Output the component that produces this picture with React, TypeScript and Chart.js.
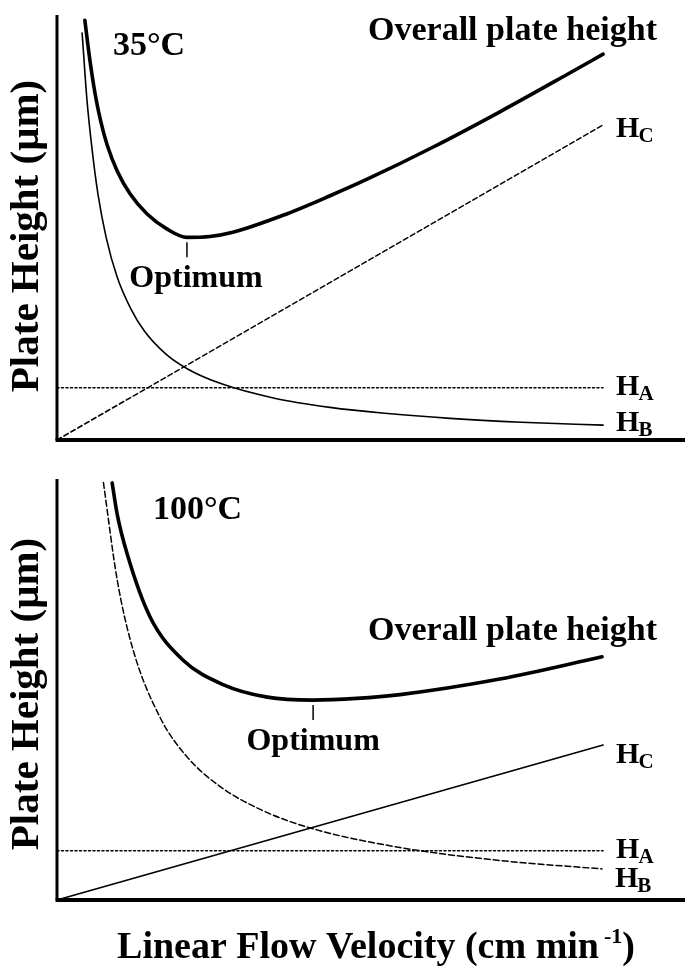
import React, { useEffect, useRef } from "react";
import { Chart, registerables } from "chart.js";

Chart.register(...registerables);

// Axis extents (arbitrary units: velocity along x, plate height along y)
const X_MAX = 11.5;
const Y_MAX = 10;

// ---- 35 °C ----
const v35Overall = [0.51, 0.6, 0.7, 0.8, 0.92, 1.1, 1.34, 1.65, 2.01, 2.38, 2.8, 3.22, 4.14, 5.0, 5.68, 6.89, 8.11, 9.34, 10.0];
const h35Overall = [9.9, 8.98, 8.15, 7.52, 6.95, 6.35, 5.8, 5.33, 4.98, 4.78, 4.8, 4.9, 5.3, 5.76, 6.15, 6.91, 7.74, 8.62, 9.1];
const v35B = [0.46, 0.55, 0.65, 0.75, 0.9, 1.1, 1.35, 1.6, 2.0, 2.4, 3.0, 4.0, 5.0, 6.0, 7.2, 8.5, 10.0];
const h35B = [9.6, 8.0, 6.77, 5.8, 4.78, 3.85, 3.1, 2.57, 2.02, 1.67, 1.33, 0.98, 0.77, 0.63, 0.51, 0.42, 0.35];
const v35A = [0, 10];
const h35A = [1.23, 1.23];
const v35C = [0, 10];
const h35C = [0, 7.43];
const opt35 = { v: 2.38, h: 4.78 };

// ---- 100 °C ----
const v100Overall = [1.01, 1.1, 1.28, 1.7, 2.31, 3.04, 3.85, 4.69, 5.49, 6.28, 8.11, 9.98];
const h100Overall = [9.93, 9.2, 8.26, 6.75, 5.71, 5.13, 4.83, 4.76, 4.8, 4.89, 5.26, 5.79];
const v100B = [0.85, 1.1, 1.39, 1.89, 2.38, 3.0, 3.8, 4.73, 6.28, 8.11, 9.98];
const h100B = [9.94, 7.64, 5.97, 4.34, 3.41, 2.69, 2.11, 1.68, 1.25, 0.94, 0.74];
const v100A = [0, 10];
const h100A = [1.17, 1.17];
const v100C = [0, 10];
const h100C = [0, 3.69];
const opt100 = { v: 4.69, h: 4.76 };

// Text
const Y_TITLE = "Plate Height (\u03bcm)";
const X_TITLE_MAIN = "Linear Flow Velocity (cm min";
const X_TITLE_SUP = "-1";
const X_TITLE_END = ")";
const OVERALL_LABEL = "Overall plate height";
const OPTIMUM_LABEL = "Optimum";

const SERIF = "'Liberation Serif', 'Times New Roman', serif";

type Line = {
  xs: number[];
  ys: number[];
  width: number;
  dash: number[];
  smooth: boolean;
  tag?: { main: string; sub: string; dy: number };
};

type PanelSpec = {
  height: number;
  pad: { top: number; bottom: number };
  lines: Line[];
  temp: { text: string; x: number; y: number };
  overallLabel: { right: number; y: number };
  optimum: { v: number; h: number; dx: number };
  yTitleCenter: number;
  xTitle?: { cx: number; y: number };
};

function toPoints(xs: number[], ys: number[]) {
  return xs.map((x, i) => ({ x, y: ys[i] }));
}

function decor(spec: PanelSpec) {
  return {
    id: "panelDecor",
    afterDatasetsDraw(chart: any) {
      const { ctx, chartArea, scales } = chart;
      const sx = scales.x;
      const sy = scales.y;
      ctx.save();
      ctx.fillStyle = "#000";
      ctx.strokeStyle = "#000";
      ctx.setLineDash([]);

      // axes
      ctx.lineWidth = 3;
      ctx.beginPath();
      ctx.moveTo(chartArea.left, chartArea.top - 1);
      ctx.lineTo(chartArea.left, chartArea.bottom);
      ctx.stroke();
      ctx.lineWidth = 4;
      ctx.beginPath();
      ctx.moveTo(chartArea.left - 1.5, chartArea.bottom);
      ctx.lineTo(chart.width, chartArea.bottom);
      ctx.stroke();

      // series end labels (H with subscript)
      spec.lines.forEach((ln) => {
        if (!ln.tag) return;
        const n = ln.xs.length - 1;
        const px = sx.getPixelForValue(ln.xs[n]) + 13;
        const py = sy.getPixelForValue(ln.ys[n]) + ln.tag.dy;
        ctx.textAlign = "left";
        ctx.textBaseline = "alphabetic";
        ctx.font = `bold 30px ${SERIF}`;
        ctx.fillText(ln.tag.main, px, py);
        const w = ctx.measureText(ln.tag.main).width;
        ctx.font = `bold 21px ${SERIF}`;
        ctx.fillText(ln.tag.sub, px + w - 1, py + 5);
      });

      // temperature
      ctx.font = `bold 34px ${SERIF}`;
      ctx.textAlign = "left";
      ctx.fillText(spec.temp.text, spec.temp.x, spec.temp.y);

      // overall label
      ctx.textAlign = "right";
      ctx.font = `bold 34px ${SERIF}`;
      ctx.fillText(OVERALL_LABEL, spec.overallLabel.right, spec.overallLabel.y);

      // optimum marker
      const ox = sx.getPixelForValue(spec.optimum.v);
      const oy = sy.getPixelForValue(spec.optimum.h);
      ctx.lineWidth = 1.5;
      ctx.beginPath();
      ctx.moveTo(ox, oy + 5);
      ctx.lineTo(ox, oy + 20);
      ctx.stroke();
      ctx.textAlign = "center";
      ctx.font = `bold 32px ${SERIF}`;
      ctx.fillText(OPTIMUM_LABEL, ox + spec.optimum.dx, oy + 50);

      // y-axis title
      ctx.save();
      ctx.translate(38, spec.yTitleCenter);
      ctx.rotate(-Math.PI / 2);
      ctx.textAlign = "center";
      ctx.font = `bold 41px ${SERIF}`;
      ctx.fillText(Y_TITLE, 0, 0);
      ctx.restore();

      // x-axis title
      if (spec.xTitle) {
        ctx.textAlign = "left";
        ctx.font = `bold 38px ${SERIF}`;
        const wMain = ctx.measureText(X_TITLE_MAIN).width;
        const wEnd = ctx.measureText(X_TITLE_END).width;
        ctx.font = `bold 22px ${SERIF}`;
        const wSup = ctx.measureText(X_TITLE_SUP).width;
        const gap = 5;
        const total = wMain + gap + wSup + wEnd;
        let x = spec.xTitle.cx - total / 2;
        const y = spec.xTitle.y;
        ctx.font = `bold 38px ${SERIF}`;
        ctx.fillText(X_TITLE_MAIN, x, y);
        x += wMain + gap;
        ctx.font = `bold 22px ${SERIF}`;
        ctx.fillText(X_TITLE_SUP, x, y - 15);
        x += wSup;
        ctx.font = `bold 38px ${SERIF}`;
        ctx.fillText(X_TITLE_END, x, y);
      }
      ctx.restore();
    },
  };
}

function Panel({ spec, top }: { spec: PanelSpec; top: number }) {
  const ref = useRef<HTMLCanvasElement | null>(null);
  useEffect(() => {
    if (!ref.current) return;
    const chart = new Chart(ref.current, {
      type: "line",
      data: {
        datasets: spec.lines.map((ln, i) => ({
          label: `s${i}`,
          data: toPoints(ln.xs, ln.ys),
          borderColor: "#000",
          borderWidth: ln.width,
          borderDash: ln.dash,
          borderCapStyle: "round",
          pointRadius: 0,
          fill: false,
          tension: 0,
          cubicInterpolationMode: ln.smooth ? "monotone" : "default",
          clip: false,
        })) as any,
      },
      options: {
        animation: false,
        responsive: false,
        events: [],
        layout: { padding: { left: 57, right: 0, top: spec.pad.top, bottom: spec.pad.bottom } },
        scales: {
          x: { type: "linear", min: 0, max: X_MAX, display: false },
          y: { type: "linear", min: 0, max: Y_MAX, display: false },
        },
        plugins: { legend: { display: false }, tooltip: { enabled: false } },
      },
      plugins: [decor(spec)],
    });
    return () => chart.destroy();
  }, [spec]);
  return (
    <canvas
      ref={ref}
      width={685}
      height={spec.height}
      style={{ position: "absolute", left: 0, top, width: 685, height: spec.height }}
    />
  );
}

const panel35: PanelSpec = {
  height: 460,
  pad: { top: 16, bottom: 20 },
  lines: [
    { xs: v35A, ys: h35A, width: 1.5, dash: [2, 2.5], smooth: false, tag: { main: "H", sub: "A", dy: 7 } },
    { xs: v35C, ys: h35C, width: 1.5, dash: [5, 3], smooth: false, tag: { main: "H", sub: "C", dy: 12 } },
    { xs: v35B, ys: h35B, width: 1.6, dash: [], smooth: true, tag: { main: "H", sub: "B", dy: 6 } },
    { xs: v35Overall, ys: h35Overall, width: 3.6, dash: [], smooth: true },
  ],
  temp: { text: "35\u00b0C", x: 113, y: 55 },
  overallLabel: { right: 657, y: 40 },
  optimum: { v: opt35.v, h: opt35.h, dx: 9 },
  yTitleCenter: 236,
};

const panel100: PanelSpec = {
  height: 509,
  pad: { top: 20, bottom: 69 },
  lines: [
    { xs: v100A, ys: h100A, width: 1.5, dash: [2, 2.5], smooth: false, tag: { main: "H", sub: "A", dy: 7 } },
    { xs: v100C, ys: h100C, width: 1.6, dash: [], smooth: false, tag: { main: "H", sub: "C", dy: 18 } },
    { xs: v100B, ys: h100B, width: 1.5, dash: [6, 3], smooth: true, tag: { main: "H", sub: "B", dy: 18 } },
    { xs: v100Overall, ys: h100Overall, width: 3.6, dash: [], smooth: true },
  ],
  temp: { text: "100\u00b0C", x: 153, y: 59 },
  overallLabel: { right: 657, y: 180 },
  optimum: { v: opt100.v, h: opt100.h, dx: 0 },
  yTitleCenter: 234,
  xTitle: { cx: 376, y: 498 },
};

export default function App() {
  return (
    <div style={{ position: "absolute", left: 0, top: 0, width: 685, height: 969, background: "#fff" }}>
      <Panel spec={panel35} top={0} />
      <Panel spec={panel100} top={460} />
    </div>
  );
}
